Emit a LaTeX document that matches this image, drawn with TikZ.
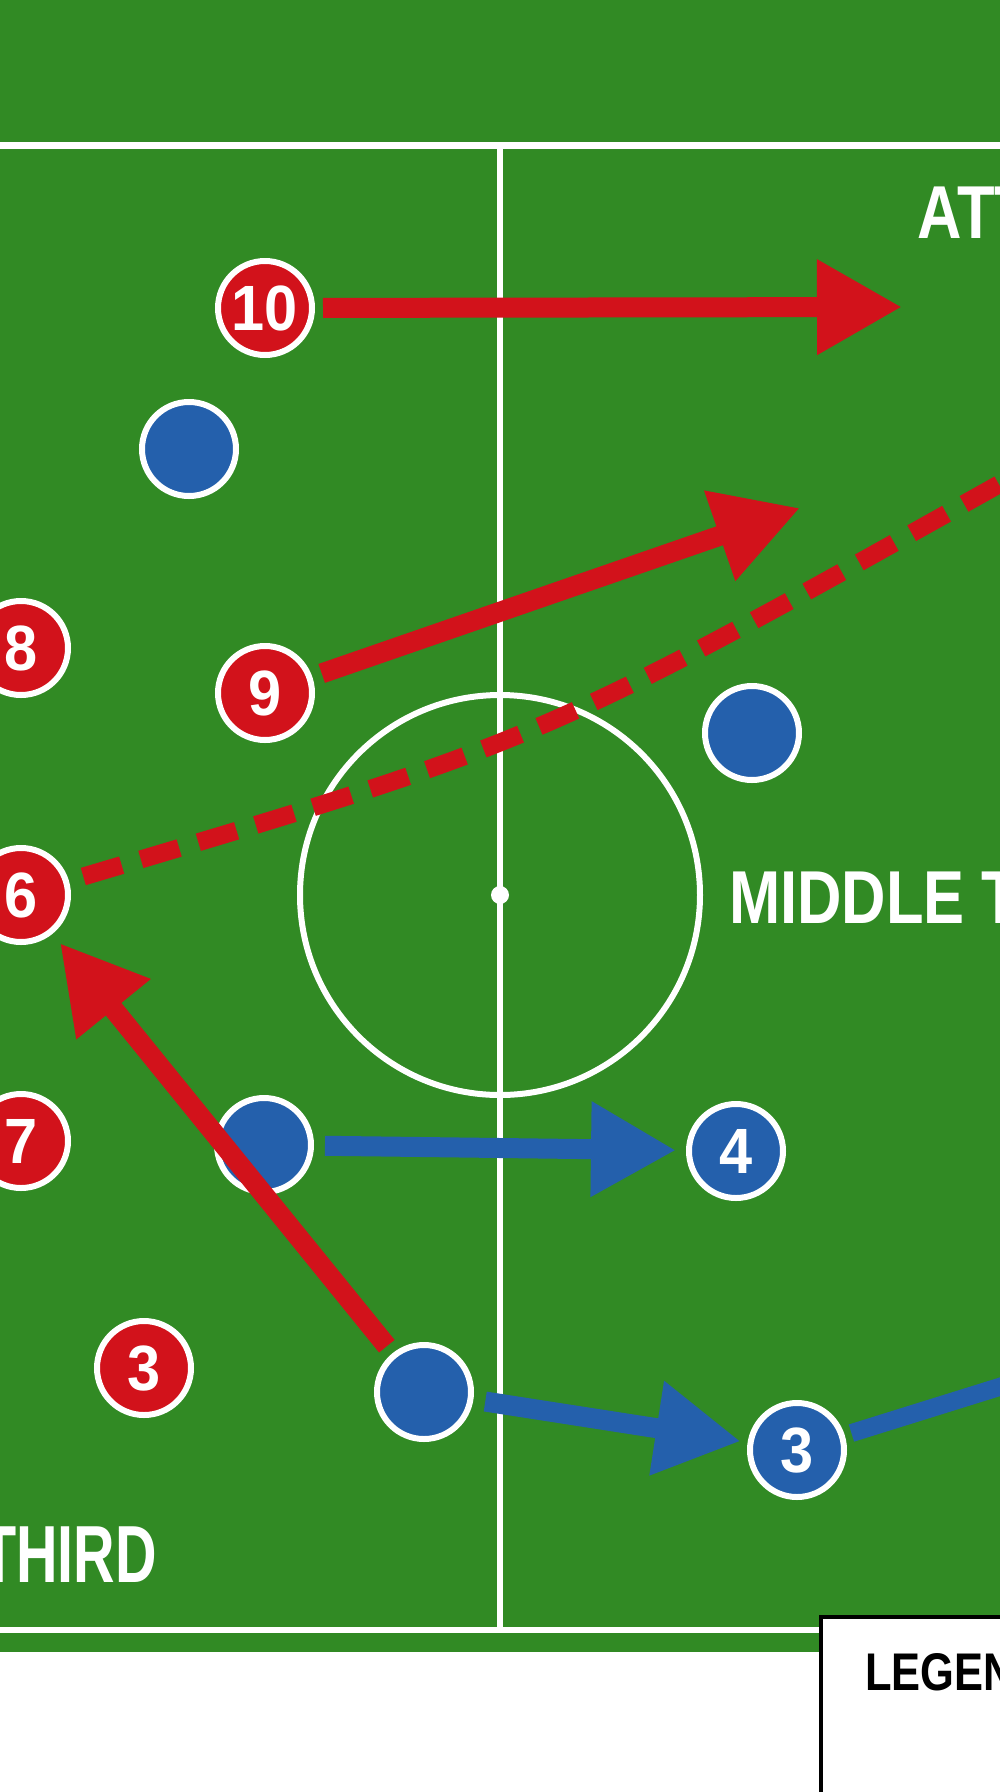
\documentclass[tikz,border=0pt]{standalone}
\usepackage{fontspec}
\newfontfamily\labelfont{Liberation Sans}[FakeStretch=0.82]
\newfontfamily\deflabelfont{Liberation Sans}[FakeStretch=0.71]
\newfontfamily\numfont{Liberation Sans}[FakeStretch=0.93]
\usetikzlibrary{arrows.meta}
\definecolor{pitch}{RGB}{49,138,36}
\definecolor{teamred}{RGB}{210,18,27}
\definecolor{teamblue}{RGB}{36,96,172}
\begin{document}
\begin{tikzpicture}[x=1pt,y=-1pt,
  player/.style={circle,draw=white,line width=6pt,minimum size=94pt,inner sep=0pt,text=white,
    font=\numfont\bfseries\fontsize{64}{64}\selectfont},
  redp/.style={player,fill=teamred},
  bluep/.style={player,fill=teamblue},
  move/.style={line width=20pt,-{Triangle[length=85pt,width=90pt]}},
  pitchline/.style={draw=white,line width=6.5pt},
  zone/.style={text=white,inner sep=0pt,font=\labelfont\bfseries\fontsize{75}{75}\selectfont},
]
\useasboundingbox (0,0) rectangle (1000,1792);
\clip (0,0) rectangle (1000,1792);
\fill[white] (0,0) rectangle (1000,1792);
\fill[pitch] (0,0) rectangle (1000,1652);
% pitch markings
\draw[pitchline,line width=7pt] (-10,145) -- (1010,145);
\draw[pitchline] (500,145) -- (500,1630);
\draw[pitchline] (-10,1630) -- (1010,1630);
\draw[pitchline,line width=6pt] (500,895) circle[radius=200];
\fill[white] (500,895) circle[radius=9];
% zone labels
\node[zone,anchor=base west] (lblAtt) at (917,238) {ATT};
\node[zone,anchor=base west] (lblMid) at (729,923) {MIDDLE T};
\node[zone,anchor=base east,font=\deflabelfont\bfseries\fontsize{81}{81}\selectfont] (lblDef) at (157,1582) {THIRD};
% legend box
\draw[black,line width=4pt,fill=white] (821,1617) rectangle (1030,1830);
\node[inner sep=0pt,anchor=base west,text=black,font=\labelfont\bfseries\fontsize{53}{53}\selectfont] (lblLegend) at (865,1690) {LEGEN};
% players
\node[redp] (p10) at (265,308) {10};
\node[bluep] (b1) at (189,449) {};
\node[redp] (p8) at (21,648) {8};
\node[redp] (p9) at (265,693) {9};
\node[bluep] (b2) at (752,733) {};
\node[redp] (p6) at (21,895) {6};
\node[redp] (p7) at (21,1141) {7};
\node[bluep] (b3) at (264,1145) {};
\node[bluep] (b4) at (736,1151) {4};
\node[redp] (p3) at (144,1368) {3};
\node[bluep] (b5) at (424,1392) {};
\node[bluep] (b6) at (797,1450) {3};
% free ends
\coordinate (t10) at (902,307);
\coordinate (t9) at (800,508);
\coordinate (dashctl) at (543,740);
\coordinate (dashend) at (1012,477);
\coordinate (blueend) at (1012,1383);
% movements
\draw[move,teamred,shorten <=8pt] (p10) -- (t10);
\draw[move,teamred,shorten <=10pt] (p9) -- (t9);
\draw[teamred,line width=18pt,dash pattern=on 40pt off 20pt,shorten <=15pt] (p6) .. controls (dashctl) .. (dashend);
\draw[move,teamred,shorten <=9pt,shorten >=12pt] (b5) -- (p6);
\draw[move,teamblue,shorten <=11pt,shorten >=10pt] (b3) -- (b4);
\draw[move,teamblue,shorten <=12pt,shorten >=7pt] (b5) -- (b6);
\draw[teamblue,line width=18pt,shorten <=7pt] (b6) -- (blueend);
\end{tikzpicture}
\end{document}
